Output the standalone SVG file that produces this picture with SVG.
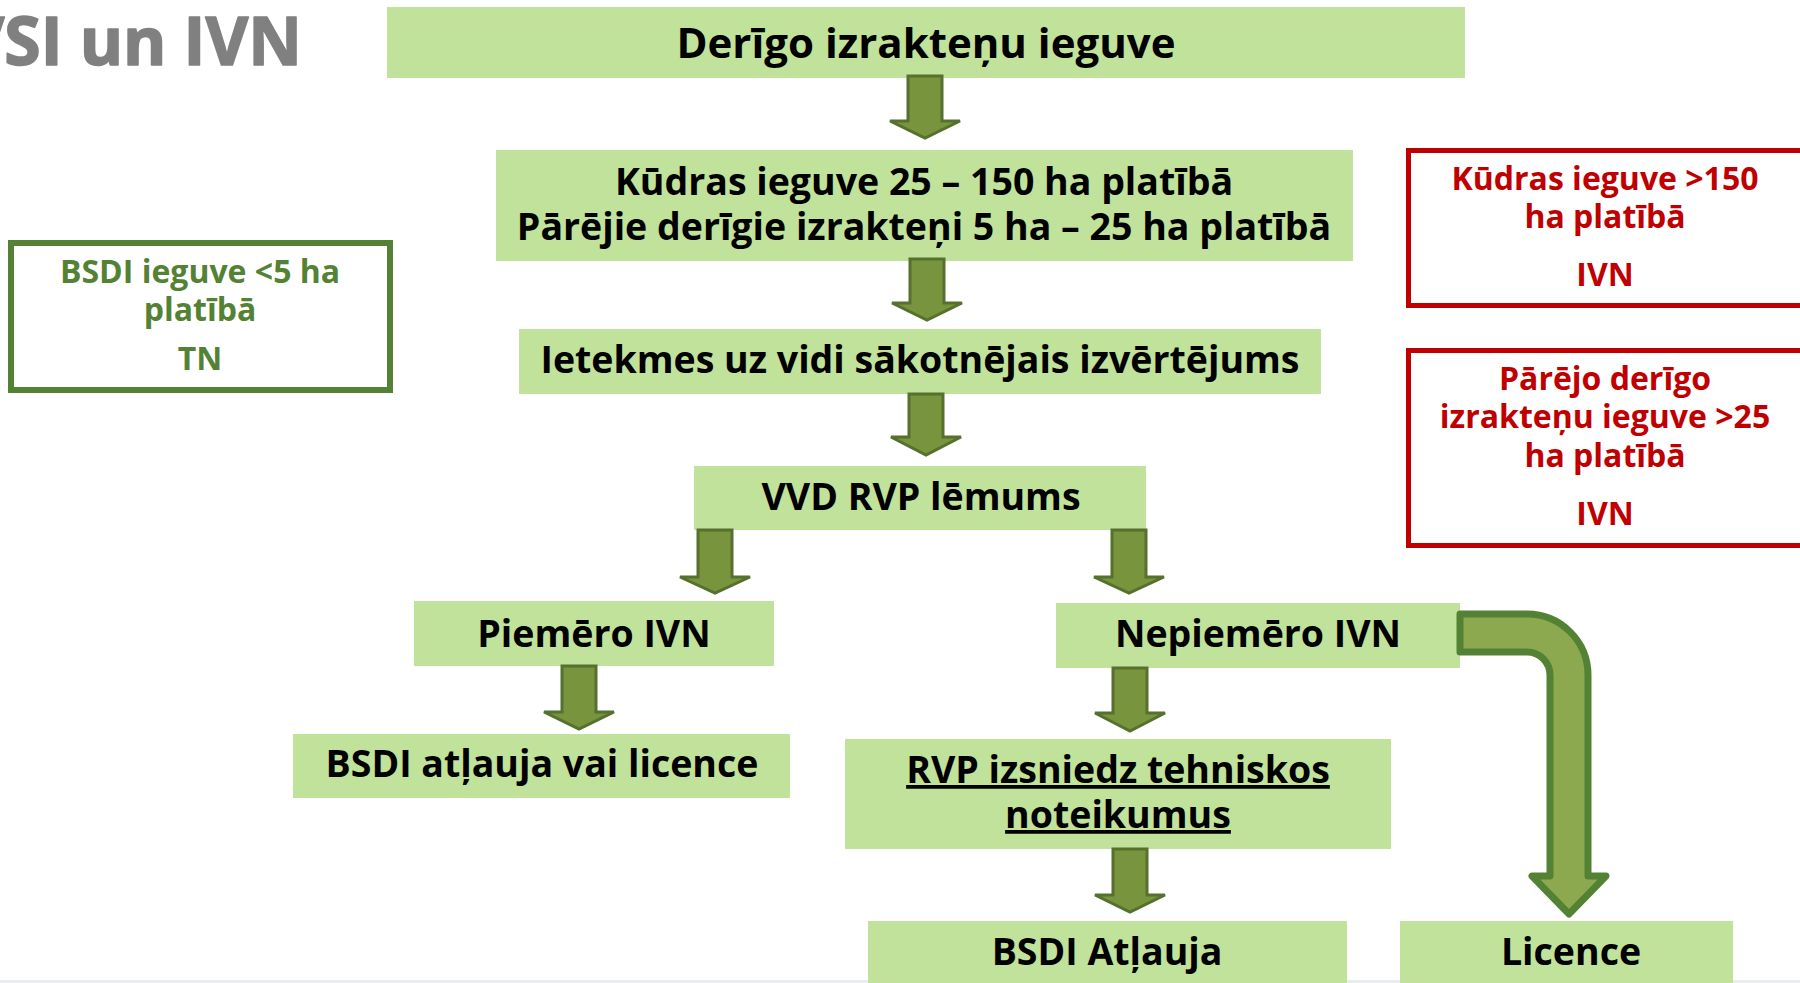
<svg xmlns="http://www.w3.org/2000/svg" width="1800" height="983" viewBox="0 0 1800 983">
<style>
.box{fill:#C0E29A}
.t{font-family:"Open Sans","Liberation Sans",sans-serif;font-weight:700;fill:#000;text-anchor:middle}
.m{font-size:37.5px}
.red{fill:none;stroke:#C00000;stroke-width:5}
.rt{font-family:"Open Sans","Liberation Sans",sans-serif;font-weight:700;fill:#C00000;text-anchor:middle;font-size:32px}
.gt{font-family:"Open Sans","Liberation Sans",sans-serif;font-weight:700;fill:#548235;text-anchor:middle;font-size:32px}
.arr{fill:#78943D;stroke:#56702E;stroke-width:3;stroke-linejoin:miter}
.carr{fill:#8DA950;stroke:#548235;stroke-width:7;stroke-linejoin:round}
</style>
<rect x="0" y="980" width="1800" height="3" fill="#E9EDF0"/>
<text x="302" y="65" font-family="'Open Sans','Liberation Sans',sans-serif" font-weight="700" font-size="66" fill="#808080" text-anchor="end" stroke="#808080" stroke-width="1.6" stroke-linejoin="round">VSI un IVN</text>

<g id="n1"><rect class="box" x="387" y="7" width="1078" height="71"/><text class="t" x="926" y="58" font-size="42">Derīgo izrakteņu ieguve</text></g>
<g id="n2"><rect class="box" x="496" y="150" width="857" height="111"/><text class="t m" x="924" y="195">Kūdras ieguve 25 – 150 ha platībā</text><text class="t m" x="924" y="240">Pārējie derīgie izrakteņi 5 ha – 25 ha platībā</text></g>
<g id="n3"><rect class="box" x="519" y="329" width="802" height="65"/><text class="t m" x="920" y="373">Ietekmes uz vidi sākotnējais izvērtējums</text></g>
<g id="n4"><rect class="box" x="694" y="466" width="452" height="64"/><text class="t m" x="921" y="510">VVD RVP lēmums</text></g>
<g id="n5"><rect class="box" x="414" y="601" width="360" height="65"/><text class="t m" x="594" y="647">Piemēro IVN</text></g>
<g id="n6"><rect class="box" x="1056" y="603" width="404" height="65"/><text class="t m" x="1258" y="647">Nepiemēro IVN</text></g>
<g id="n7"><rect class="box" x="293" y="734" width="497" height="64"/><text class="t m" x="542" y="777">BSDI atļauja vai licence</text></g>
<g id="n8"><rect class="box" x="845" y="739" width="546" height="110"/><text class="t m" x="1118" y="783" text-decoration="underline">RVP izsniedz tehniskos</text><text class="t m" x="1118" y="828" text-decoration="underline">noteikumus</text></g>
<g id="n9"><rect class="box" x="868" y="921" width="479" height="62"/><text class="t m" x="1107" y="965">BSDI Atļauja</text></g>
<g id="n10"><rect class="box" x="1400" y="921" width="333" height="62"/><text class="t m" x="1571" y="965">Licence</text></g>

<g id="n11"><rect class="red" x="1408.5" y="150.5" width="400" height="155"/><text class="rt" x="1605" y="190">Kūdras ieguve &gt;150</text><text class="rt" x="1605" y="228">ha platībā</text><text class="rt" x="1605" y="286">IVN</text></g>
<g id="n12"><rect class="red" x="1408.5" y="350.5" width="400" height="195"/><text class="rt" x="1605" y="390">Pārējo derīgo</text><text class="rt" x="1605" y="428">izrakteņu ieguve &gt;25</text><text class="rt" x="1605" y="467">ha platībā</text><text class="rt" x="1605" y="525">IVN</text></g>
<g id="n13"><rect x="11" y="243" width="379" height="147" fill="none" stroke="#548235" stroke-width="6"/><text class="gt" x="200" y="283">BSDI ieguve &lt;5 ha</text><text class="gt" x="200" y="321">platībā</text><text class="gt" x="200" y="370">TN</text></g>

<g id="connectors">
<path class="arr" d="M908,76 H942 V121 H960 L925,138 L890,121 H908 Z"/>
<path class="arr" d="M910,259 H944 V303 H962 L927,320 L892,303 H910 Z"/>
<path class="arr" d="M909,394 H943 V437 H961 L926,455 L891,437 H909 Z"/>
<path class="arr" d="M698,530 H732 V577 H750 L715,593 L680,577 H698 Z"/>
<path class="arr" d="M1112,530 H1146 V577 H1164 L1129,593 L1094,577 H1112 Z"/>
<path class="arr" d="M562,666 H596 V712 H614 L579,729 L544,712 H562 Z"/>
<path class="arr" d="M1113,668 H1147 V713 H1165 L1130,731 L1095,713 H1113 Z"/>
<path class="arr" d="M1113,849 H1147 V895 H1165 L1130,912 L1095,895 H1113 Z"/>
<path class="carr" d="M1460,614 H1527 A61,61 0 0 1 1588,675 V876 H1606 L1569,914 L1532,876 H1550 V675 A23,23 0 0 0 1527,652 H1460 Z"/>
</g>
</svg>
